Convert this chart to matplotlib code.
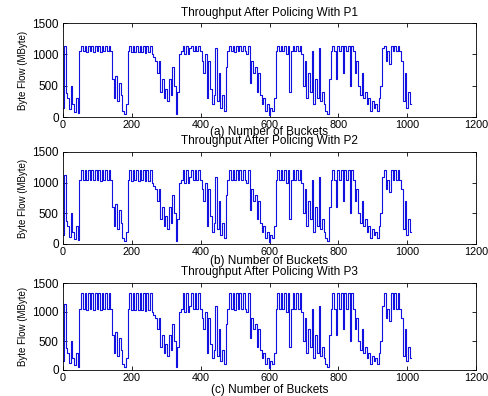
import numpy as np
import matplotlib
matplotlib.use("Agg")
import matplotlib.pyplot as plt

plt.rcParams["font.family"] = ["Liberation Sans", "DejaVu Sans"]

# byte flow per bucket before policing, one sample every 5 buckets
step = 5
flow = [
    150, 1130, 380, 300, 120, 500, 200, 80, 300, 60, 1050, 1330, 1050, 1330, 1040, 1330, 1050, 1330, 1040, 1330,
    1050, 1330, 1030, 1330, 1050, 1330, 1050, 1330, 1050, 600, 300, 650, 250, 550, 350, 100, 50, 200, 1050, 1330,
    1030, 1330, 1040, 1330, 1030, 1330, 1040, 1330, 1020, 1330, 1030, 1330, 1000, 950, 900, 700, 900, 400, 600, 300,
    450, 250, 600, 350, 800, 500, 50, 400, 1000, 1050, 1330, 1000, 1330, 1000, 1100, 1330, 1050, 1330, 1050, 1330,
    1050, 900, 700, 1000, 300, 900, 450, 200, 350, 1100, 250, 700, 150, 350, 100, 800, 1050, 1330, 1050, 1330,
    1040, 1330, 1050, 1330, 1050, 1330, 1050, 1000, 1330, 550, 900, 700, 800, 400, 700, 350, 200, 300, 100, 200,
    30, 150, 100, 300, 1050, 1330, 1050, 1330, 1050, 1330, 1000, 1330, 400, 1050, 1330, 1050, 1330, 1050, 1330, 1000,
    500, 900, 300, 700, 400, 1050, 200, 600, 300, 1100, 250, 400, 200, 100, 50, 600, 1050, 1330, 1050, 600,
    1330, 1050, 1330, 700, 1330, 1050, 1330, 500, 1330, 1050, 700, 900, 500, 350, 700, 300, 400, 200, 300, 100,
    250, 150, 200, 100, 300, 500, 1100, 1330, 900, 1050, 850, 1330, 1050, 1330, 1050, 1330, 1050, 900, 250, 700,
    150, 400, 200,
]
# policing limit of each profile
caps = [1140, 1200, 1330]
titles = ["Throughput After Policing With P1",
          "Throughput After Policing With P2",
          "Throughput After Policing With P3"]
xlabels = ["(a) Number of Buckets", "(b) Number of Buckets", "(c) Number of Buckets"]

buckets = np.arange(len(flow)) * step
flow = np.array(flow, dtype=float)

W, H = 488, 396
fig = plt.figure(figsize=(W / 100, H / 100), dpi=100)
# axes boxes in pixels: (left, top, right, bottom)
boxes = [(63, 23, 476, 117), (63, 152, 476, 244), (63, 283, 476, 370)]
xlab_off = [15, 17, 20]   # px below axes bottom
title_off = [10, 11, 11]  # px above axes top

for i, (l, t, r, b) in enumerate(boxes):
    ax = fig.add_axes([l / W, 1 - b / H, (r - l) / W, (b - t) / H])
    ax.plot(buckets, np.minimum(flow, caps[i]), color="#1010e0", lw=0.8,
            drawstyle="steps-mid")
    ax.set_xlim(0, 1200)
    ax.set_ylim(0, 1500)
    ax.set_xticks(range(0, 1201, 200))
    ax.set_yticks([0, 500, 1000, 1500])
    ax.tick_params(direction="in", length=3, width=0.6, top=True, right=True)
    ax.tick_params(axis="x", labelsize=7.8, pad=2.5)
    ax.tick_params(axis="y", labelsize=8.5, pad=3)
    for s in ax.spines.values():
        s.set_linewidth(0.6)
    ax.set_ylabel("Byte Flow (MByte)", fontsize=7, labelpad=3)
    hpx = b - t
    ax.set_xlabel(xlabels[i], fontsize=8.5)
    ax.xaxis.set_label_coords(0.5, -xlab_off[i] / hpx)
    ax.xaxis.label.set_va("center")
    ax.set_title(titles[i], fontsize=8.5, y=1 + title_off[i] / hpx, va="center", pad=0)

fig.savefig("out.png", dpi=100)
